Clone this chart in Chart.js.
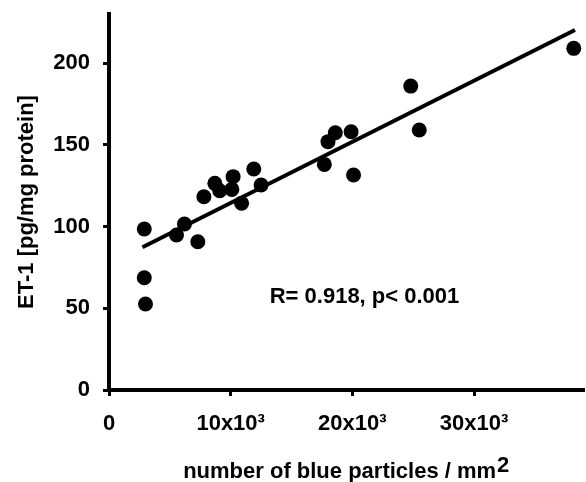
<!DOCTYPE html>
<html>
<head>
<meta charset="utf-8">
<script src="https://cdn.jsdelivr.net/npm/chart.js@4/dist/chart.umd.min.js"></script>
<style>
    html, body { margin: 0; padding: 0; background: #fff; }
    /* холст чуть шире окна: Chart.js оставляет справа поле под радиус точки */
    #frame { width: 586px; height: 482px; overflow: hidden; }
    #wrap { width: 591px; height: 482px; position: relative; }
</style>
</head>
<body>
<div id="frame"><div id="wrap"><canvas id="scatterChart"></canvas></div></div>
<script>
// ============================================
// Данные
// ============================================

// число синих частиц / мм2
const particles = [2900, 2900, 3000, 5550, 6200, 7300, 7800, 8700, 9100, 10200, 10100, 10900,
                   11900, 12500, 17700, 18000, 18600, 19900, 20100, 24800, 25500, 38200];
// ET-1, pg/mg protein
const et1 = [98.5, 68.7, 52.6, 94.8, 101.5, 90.7, 118.2, 126.4, 121.9, 130.5, 122.7, 114.2,
             135.2, 125.4, 138, 151.9, 157.4, 158, 131.5, 185.9, 159, 209];

// концы линии регрессии
const fitX = [2750, 38300];
const fitY = [87.3, 220.2];

const yTicks = [0, 50, 100, 150, 200];
const xTicks = [0, 10000, 20000, 30000];

const statText = 'R= 0.918, p< 0.001';
const statPos = { x: 21000, y: 53 };

const xTitle = 'number of blue particles / mm';
const xTitleSup = '2';
const yTitle = 'ET-1 [pg/mg protein]';

// ============================================

const FONT = 'Liberation Sans, Arial, Helvetica, sans-serif';
Chart.defaults.color = '#000';
Chart.defaults.font.family = FONT;

// подпись статистики и заголовок оси X (с большим индексом "2")
const textPlugin = {
    id: 'textPlugin',
    afterDraw(chart) {
        const ctx = chart.ctx;
        const xs = chart.scales.x;
        const ys = chart.scales.y;
        ctx.save();
        ctx.fillStyle = '#000';
        ctx.font = 'bold 22px ' + FONT;
        ctx.textBaseline = 'alphabetic';

        ctx.textAlign = 'center';
        ctx.fillText(statText, xs.getPixelForValue(statPos.x), ys.getPixelForValue(statPos.y));

        ctx.textAlign = 'left';
        const w1 = ctx.measureText(xTitle).width;
        const w2 = ctx.measureText(xTitleSup).width;
        const area = chart.chartArea;
        const cx = (area.left + area.right) / 2;
        const x0 = cx - (w1 + w2 + 1) / 2;
        const base = 478;
        ctx.fillText(xTitle, x0, base);
        ctx.fillText(xTitleSup, x0 + w1 + 1, base - 6);
        ctx.restore();
    }
};

const ctx = document.getElementById('scatterChart').getContext('2d');

new Chart(ctx, {
    type: 'scatter',
    data: {
        datasets: [
            {
                label: 'ET-1',
                data: particles.map((x, i) => ({ x: x, y: et1[i] })),
                backgroundColor: '#000',
                borderWidth: 0,
                pointRadius: 7.5,
                pointHoverRadius: 7.5
            },
            {
                type: 'line',
                label: 'fit',
                data: fitX.map((x, i) => ({ x: x, y: fitY[i] })),
                borderColor: '#000',
                borderWidth: 4,
                pointRadius: 0,
                fill: false
            }
        ]
    },
    options: {
        responsive: true,
        maintainAspectRatio: false,
        animation: false,
        layout: { padding: { top: 14, right: 0, left: 0, bottom: 0 } },
        plugins: {
            legend: { display: false },
            tooltip: { enabled: false }
        },
        scales: {
            x: {
                type: 'linear',
                min: 0,
                max: 39000,
                afterFit: (s) => { s.height = 92; s.paddingLeft = 0; s.paddingRight = 0; },
                afterBuildTicks: (s) => { s.ticks = xTicks.map(v => ({ value: v })); },
                border: { display: true, width: 4, color: '#000' },
                grid: { drawOnChartArea: false, drawTicks: true, tickLength: 6, lineWidth: 3, color: '#000' },
                ticks: {
                    padding: 15,
                    font: { size: 22, weight: 'bold' },
                    maxRotation: 0,
                    callback: (v) => v === 0 ? '0' : (v / 1000) + 'x10³'
                }
            },
            y: {
                min: 0,
                max: 230,
                afterFit: (s) => { s.width = 109; s.paddingTop = 0; s.paddingBottom = 0; },
                afterBuildTicks: (s) => { s.ticks = yTicks.map(v => ({ value: v })); },
                border: { display: true, width: 4, color: '#000' },
                grid: { drawOnChartArea: false, drawTicks: true, tickLength: 6, lineWidth: 3, color: '#000' },
                ticks: {
                    padding: 13,
                    font: { size: 22, weight: 'bold' }
                },
                title: {
                    display: true,
                    text: yTitle,
                    font: { size: 22, weight: 'bold' },
                    padding: { top: 14, bottom: 0 }
                }
            }
        }
    },
    plugins: [textPlugin]
});
</script>
</body>
</html>
